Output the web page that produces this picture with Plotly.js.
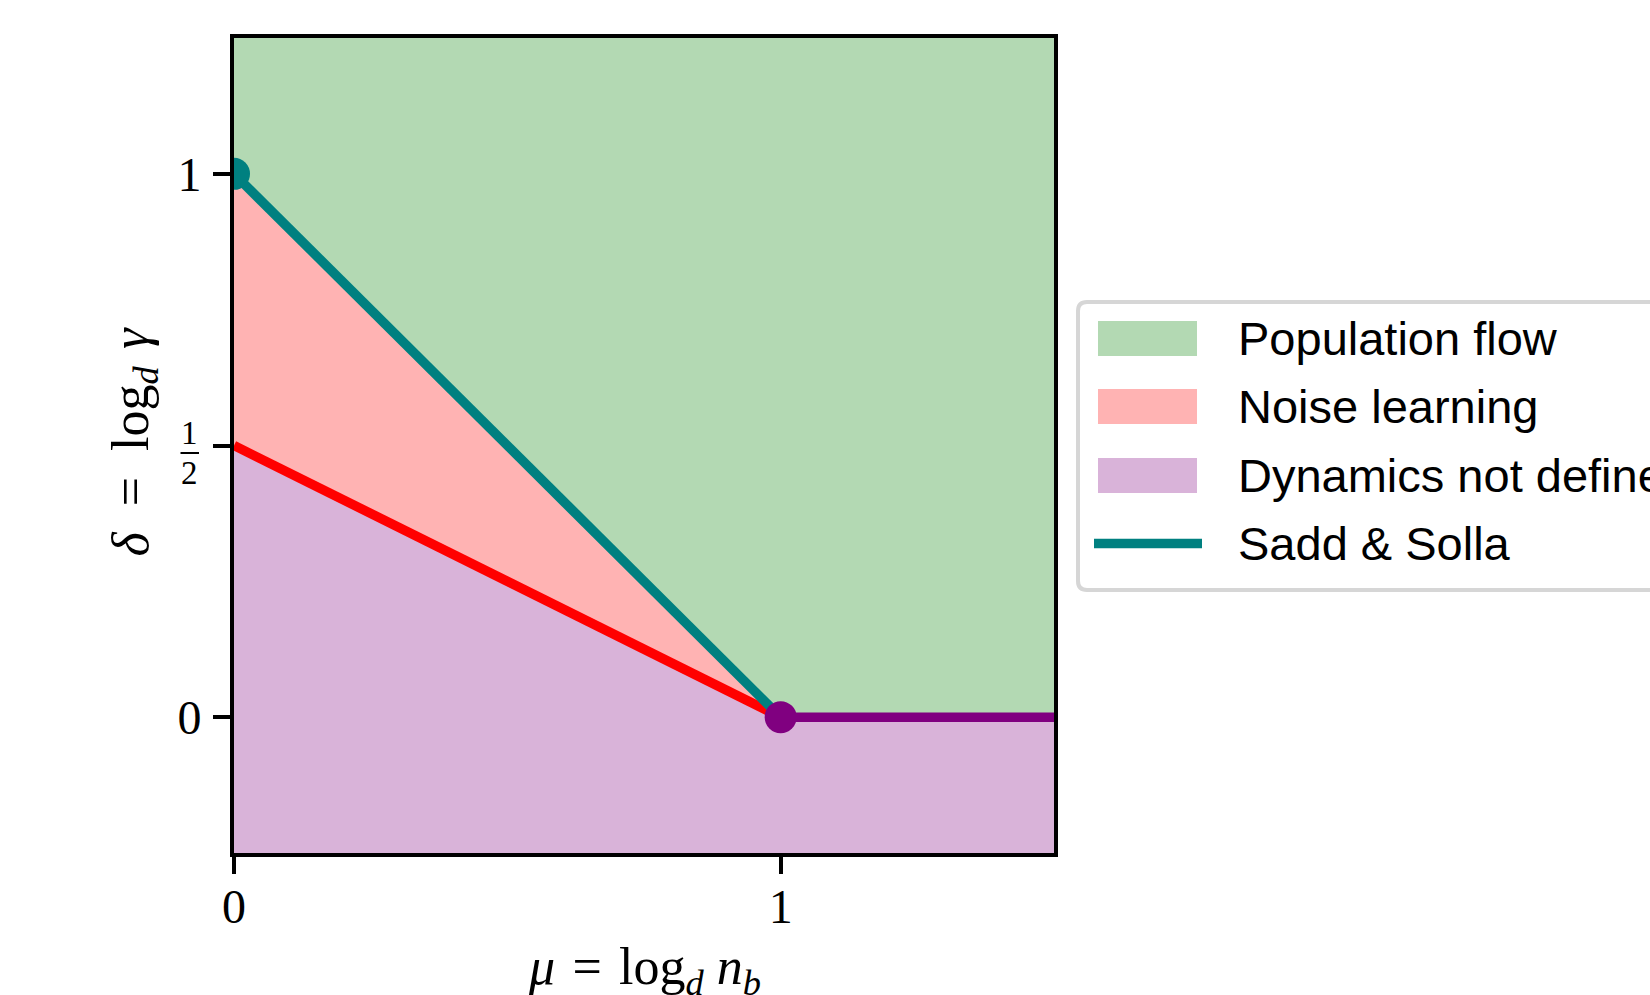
<!DOCTYPE html>
<html><head><meta charset="utf-8">
<script src="https://cdn.plot.ly/plotly-3.0.1.min.js"></script>
<style>html,body{margin:0;padding:0;background:#fff;overflow:hidden}</style>
</head><body><div id="chart" style="width:1650px;height:995px"></div>
<script>
// ---- data ----
const muRange = [0, 1.5];
const deltaRange = [-0.25, 1.25];
const saddSollaMu = [0, 1];
const saddSollaDelta = [1, 0];
const noiseMu = [0, 1];
const noiseDelta = [0.5, 0];
const undefinedMu = [1, 1.5];
const undefinedDelta = [0, 0];
const xTickVals = [0, 1];
const xTickText = ['0', '1'];
const yTickVals = [0, 0.5, 1];
const yTickText = ['0', '', '1'];
const halfLabel = ['1', '2'];
const regionLabels = ['Population flow', 'Noise learning', 'Dynamics not defined'];
const lineLabel = 'Sadd & Solla';
const xTitle = '<i>μ</i>\u2004=\u2004log<sub><i>d</i></sub> <i>n</i><sub><i>b</i></sub>';
const yTitle = '<i>δ</i>\u2002=\u2002log<sub><i>d</i></sub>\u2004<i>γ</i>';

// ---- styles ----
const GREEN = '#b3d9b3', PINK = '#ffb3b3', PURPLE_FILL = '#d9b3d9';
const TEAL = '#008080', RED = '#ff0000', PURPLE = '#800080';
const SERIF = 'Liberation Serif, DejaVu Serif, serif';
const SANS = 'Liberation Sans, DejaVu Sans, sans-serif';
const L = 234, R = 1054, T = 38, B = 853;
const px = x => (x - L) / (R - L);
const py = y => (B - y) / (B - T);

// ---- regions built from boundaries ----
const greenX = [muRange[0], muRange[1], undefinedMu[1], undefinedMu[0], saddSollaMu[0]];
const greenY = [deltaRange[1], deltaRange[1], undefinedDelta[1], undefinedDelta[0], saddSollaDelta[0]];
const pinkX = [saddSollaMu[0], saddSollaMu[1], noiseMu[0]];
const pinkY = [saddSollaDelta[0], saddSollaDelta[1], noiseDelta[0]];
const purpleX = [noiseMu[0], noiseMu[1], undefinedMu[1], muRange[1], muRange[0]];
const purpleY = [noiseDelta[0], noiseDelta[1], undefinedDelta[1], deltaRange[0], deltaRange[0]];

const traces = [
  {x: greenX, y: greenY, fill: 'toself', fillcolor: GREEN, mode: 'lines', line: {width: 0}, name: regionLabels[0], showlegend: false, hoverinfo: 'skip'},
  {x: pinkX, y: pinkY, fill: 'toself', fillcolor: PINK, mode: 'lines', line: {width: 0}, name: regionLabels[1], showlegend: false, hoverinfo: 'skip'},
  {x: purpleX, y: purpleY, fill: 'toself', fillcolor: PURPLE_FILL, mode: 'lines', line: {width: 0}, name: regionLabels[2], showlegend: false, hoverinfo: 'skip'},
  {x: noiseMu, y: noiseDelta, mode: 'lines', line: {color: RED, width: 9.5}, showlegend: false},
  {x: saddSollaMu, y: saddSollaDelta, mode: 'lines', line: {color: TEAL, width: 9.5}, name: lineLabel, showlegend: false},
  {x: undefinedMu, y: undefinedDelta, mode: 'lines', line: {color: PURPLE, width: 9.5}, showlegend: false},
  {x: [saddSollaMu[0]], y: [saddSollaDelta[0]], mode: 'markers', marker: {color: TEAL, size: 32}, showlegend: false},
  {x: [undefinedMu[0]], y: [undefinedDelta[0]], mode: 'markers', marker: {color: PURPLE, size: 32}, showlegend: false}
];

// ---- legend (manual, matplotlib-like) ----
const shapes = [];
const annotations = [];
const lx0 = 1078, lx1 = 1700, ly0 = 302, ly1 = 590, rad = 9;
const rx = rad / (R - L), ry = rad / (B - T);
shapes.push({
  type: 'path', xref: 'paper', yref: 'paper', layer: 'above',
  path: `M ${px(lx0)+rx} ${py(ly0)} L ${px(lx1)} ${py(ly0)} L ${px(lx1)} ${py(ly1)} L ${px(lx0)+rx} ${py(ly1)} Q ${px(lx0)} ${py(ly1)} ${px(lx0)} ${py(ly1)+ry} L ${px(lx0)} ${py(ly0)-ry} Q ${px(lx0)} ${py(ly0)} ${px(lx0)+rx} ${py(ly0)} Z`,
  fillcolor: 'rgba(255,255,255,0.8)', line: {color: '#d6d6d6', width: 4}
});
const rowY = [338.5, 406.5, 475.5, 543.5];
const fills = [GREEN, PINK, PURPLE_FILL];
for (let i = 0; i < 3; i++) {
  shapes.push({type: 'rect', xref: 'paper', yref: 'paper', layer: 'above',
    x0: px(1098), x1: px(1197), y0: py(rowY[i] - 17.5), y1: py(rowY[i] + 17.5),
    fillcolor: fills[i], line: {width: 0}});
  annotations.push({xref: 'paper', yref: 'paper', x: px(1236), y: py(rowY[i]), xanchor: 'left', yanchor: 'middle',
    text: regionLabels[i], showarrow: false, font: {family: SANS, size: 47, color: '#000'}});
}
shapes.push({type: 'line', xref: 'paper', yref: 'paper', layer: 'above',
  x0: px(1094), x1: px(1202), y0: py(rowY[3]), y1: py(rowY[3]), line: {color: TEAL, width: 9.3}});
annotations.push({xref: 'paper', yref: 'paper', x: px(1236), y: py(rowY[3]), xanchor: 'left', yanchor: 'middle',
  text: lineLabel, showarrow: false, font: {family: SANS, size: 47, color: '#000'}});

// ---- stacked fraction tick label at 1/2 ----
const barY = 453;
annotations.push({xref: 'paper', yref: 'paper', x: px(189.5), y: py(barY - 1), xanchor: 'center', yanchor: 'bottom',
  text: halfLabel[0], showarrow: false, borderpad: 0, font: {family: SERIF, size: 33, color: '#000'}});
annotations.push({xref: 'paper', yref: 'paper', x: px(189.5), y: py(barY + 1), xanchor: 'center', yanchor: 'top',
  text: halfLabel[1], showarrow: false, borderpad: 0, font: {family: SERIF, size: 33, color: '#000'}});
shapes.push({type: 'line', xref: 'paper', yref: 'paper', layer: 'above',
  x0: px(180.5), x1: px(199), y0: py(barY), y1: py(barY), line: {color: '#000', width: 2}});

// ---- axis titles (placed as annotations for exact position) ----
annotations.push({xref: 'paper', yref: 'paper', x: 0.5, y: py(970), xanchor: 'center', yanchor: 'middle',
  text: xTitle, showarrow: false, font: {family: SERIF, size: 52, color: '#000'}});
annotations.push({xref: 'paper', yref: 'paper', x: px(133.5), y: py(442), xanchor: 'center', yanchor: 'middle',
  textangle: -90, text: yTitle, showarrow: false, font: {family: SERIF, size: 52, color: '#000'}});

const axisCommon = {
  ticks: 'outside', ticklen: 17, tickwidth: 4, tickcolor: '#000',
  showline: true, linewidth: 4, linecolor: '#000', mirror: true,
  showgrid: false, zeroline: false, tickmode: 'array',
  tickfont: {family: SERIF, size: 48, color: '#000'}, fixedrange: true, automargin: false
};

const layout = {
  width: 1650, height: 995,
  margin: {l: L, r: 1650 - R, t: T, b: 995 - B, autoexpand: false},
  paper_bgcolor: '#fff', plot_bgcolor: '#fff',
  showlegend: false,
  xaxis: Object.assign({}, axisCommon, {range: muRange, tickvals: xTickVals, ticktext: xTickText,
    ticklabelstandoff: -9}),
  yaxis: Object.assign({}, axisCommon, {range: deltaRange, tickvals: yTickVals, ticktext: yTickText,
    ticklabelstandoff: 2}),
  shapes: shapes,
  annotations: annotations
};

Plotly.newPlot('chart', traces, layout, {displayModeBar: false, staticPlot: true});
</script>
</body></html>
